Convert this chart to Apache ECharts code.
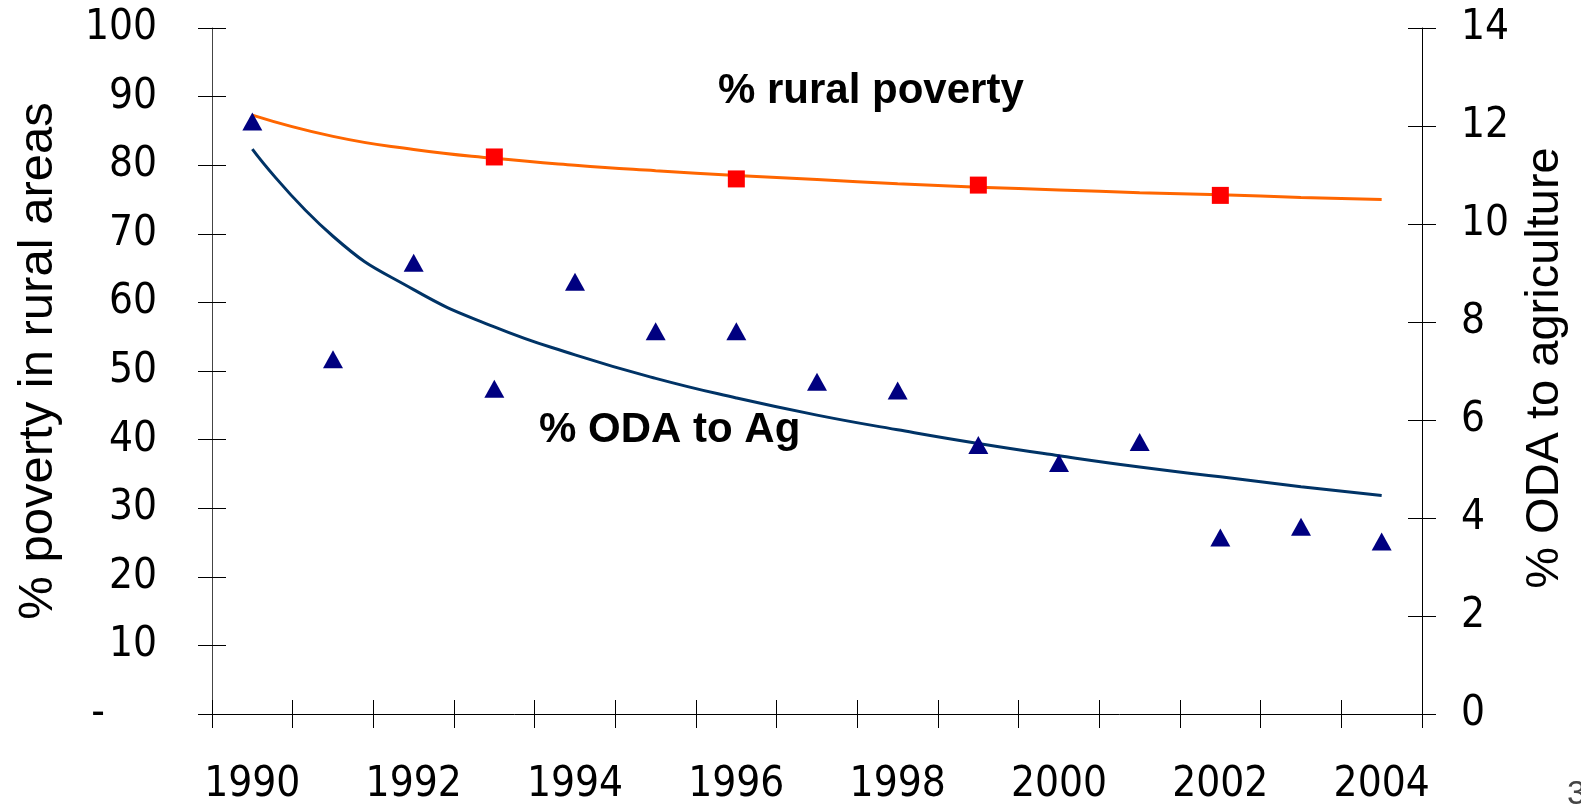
<!DOCTYPE html>
<html>
<head>
<meta charset="utf-8">
<script src="https://cdn.jsdelivr.net/npm/echarts@6/dist/echarts.min.js"></script>
<style>
  html, body { margin: 0; padding: 0; background: #fff; }
  #chart { width: 1581px; height: 806px; }
</style>
</head>
<body>
<div id="chart"></div>
<script>
  // years on the x axis
  const years = ['1990', '1991', '1992', '1993', '1994', '1995', '1996', '1997',
    '1998', '1999', '2000', '2001', '2002', '2003', '2004'];

  // % rural poverty (left axis): trend line + the 4 survey points
  const povertyTrend = [87.3, 84.2, 82.3, 81.0, 80.0, 79.2, 78.5, 77.9, 77.3, 76.8, 76.4, 76.0, 75.7, 75.3, 75.0];
  const povertyObs = [null, null, null, 81.2, null, null, 78.0, null, null, 77.1, null, null, 75.6, null, null];

  // % ODA to agriculture (right axis): trend line + yearly points
  const odaTrend = [11.53, 9.75, 8.66, 7.9, 7.33, 6.85, 6.45, 6.1, 5.8, 5.52, 5.27, 5.04, 4.84, 4.64, 4.46];
  const odaObs = [12.09, 7.24, 9.21, 6.64, 8.82, 7.81, 7.81, 6.78, 6.6, 5.49, 5.12, 5.55, 3.6, 3.82, 3.52];

  // axis ranges
  const leftRange = { min: 0, max: 100, step: 10 };
  const rightRange = { min: 0, max: 14, step: 2 };

  const numFont = "'DejaVu Sans Condensed', 'Liberation Sans', sans-serif";
  const txtFont = "'Liberation Sans', Arial, sans-serif";
  const axisCol = '#000';

  const chart = echarts.init(document.getElementById('chart'));

  const option = {
    animation: false,
    backgroundColor: '#fff',
    grid: { left: 212, right: 159, top: 28, bottom: 91 },
    xAxis: [{
      type: 'category',
      data: years,
      boundaryGap: true,
      axisLine: { lineStyle: { color: axisCol, width: 1 } },
      axisTick: { show: true, interval: 0, length: 14, lineStyle: { color: axisCol } },
      axisLabel: { interval: 1, fontSize: 42, fontFamily: numFont, color: '#000', margin: 50 },
      splitLine: { show: false }
    }, {
      // inner half of the crossing ticks
      type: 'category',
      data: years,
      position: 'bottom',
      boundaryGap: true,
      axisLine: { show: false },
      axisTick: { show: true, inside: true, interval: 0, length: 14, lineStyle: { color: axisCol } },
      axisLabel: { show: false },
      splitLine: { show: false }
    }],
    yAxis: [{
      type: 'value',
      position: 'left',
      min: leftRange.min,
      max: leftRange.max,
      interval: leftRange.step,
      axisLine: { show: true, lineStyle: { color: '#444', width: 1 } },
      axisTick: { show: true, length: 14, lineStyle: { color: axisCol } },
      axisLabel: {
        fontSize: 42, fontFamily: numFont, color: '#000', margin: 55,
        formatter: v => v === 0 ? '{d|-}' : String(v),
        rich: { d: { fontSize: 42, fontFamily: numFont, color: '#000', padding: [0, 52, 0, 0] } }
      },
      splitLine: { show: false }
    }, {
      type: 'value',
      position: 'right',
      min: rightRange.min,
      max: rightRange.max,
      interval: rightRange.step,
      axisLine: { show: true, lineStyle: { color: axisCol, width: 1 } },
      axisTick: { show: true, length: 14, lineStyle: { color: axisCol } },
      axisLabel: { fontSize: 42, fontFamily: numFont, color: '#000', margin: 39 },
      splitLine: { show: false }
    }, {
      type: 'value',
      position: 'left',
      min: leftRange.min,
      max: leftRange.max,
      interval: leftRange.step,
      axisLine: { show: false },
      axisTick: { show: true, inside: true, length: 14, lineStyle: { color: axisCol } },
      axisLabel: { show: false },
      splitLine: { show: false }
    }, {
      type: 'value',
      position: 'right',
      min: rightRange.min,
      max: rightRange.max,
      interval: rightRange.step,
      axisLine: { show: false },
      axisTick: { show: true, inside: true, length: 14, lineStyle: { color: axisCol } },
      axisLabel: { show: false },
      splitLine: { show: false }
    }],
    graphic: [{
      // left axis title
      type: 'text',
      x: 38, y: 361,
      rotation: Math.PI / 2,
      style: {
        text: '% poverty in rural areas', font: "49px " + txtFont, fill: '#000',
        align: 'center', verticalAlign: 'middle'
      }
    }, {
      // right axis title
      type: 'text',
      x: 1545, y: 368,
      rotation: Math.PI / 2,
      style: {
        text: '% ODA to agriculture', font: "47px " + txtFont, fill: '#000',
        align: 'center', verticalAlign: 'middle'
      }
    }, {
      type: 'text',
      left: 718, top: 70,
      style: { text: '% rural poverty', font: "bold 42px " + txtFont, fill: '#000' }
    }, {
      type: 'text',
      left: 539, top: 409,
      style: { text: '% ODA to Ag', font: "bold 42px " + txtFont, fill: '#000' }
    }, {
      // slide number, cut by the right edge
      type: 'text',
      x: 1567, y: 778,
      style: { text: '3', font: "34px " + txtFont, fill: '#444' }
    }],
    series: [{
      name: 'poverty trend',
      type: 'line',
      yAxisIndex: 0,
      data: povertyTrend,
      symbol: 'none',
      smooth: true,
      lineStyle: { color: '#FF6600', width: 3 },
      z: 2
    }, {
      name: 'ODA trend',
      type: 'line',
      yAxisIndex: 1,
      data: odaTrend,
      symbol: 'none',
      smooth: true,
      lineStyle: { color: '#003366', width: 3 },
      z: 2
    }, {
      name: '% rural poverty',
      type: 'scatter',
      yAxisIndex: 0,
      data: povertyObs,
      symbol: 'rect',
      symbolSize: 17,
      itemStyle: { color: '#FF0000', opacity: 1 },
      z: 3
    }, {
      name: '% ODA to Ag',
      type: 'scatter',
      yAxisIndex: 1,
      data: odaObs,
      symbol: 'triangle',
      symbolSize: [20, 18],
      itemStyle: { color: '#000080', opacity: 1 },
      z: 4
    }]
  };

  chart.setOption(option);
</script>
</body>
</html>
